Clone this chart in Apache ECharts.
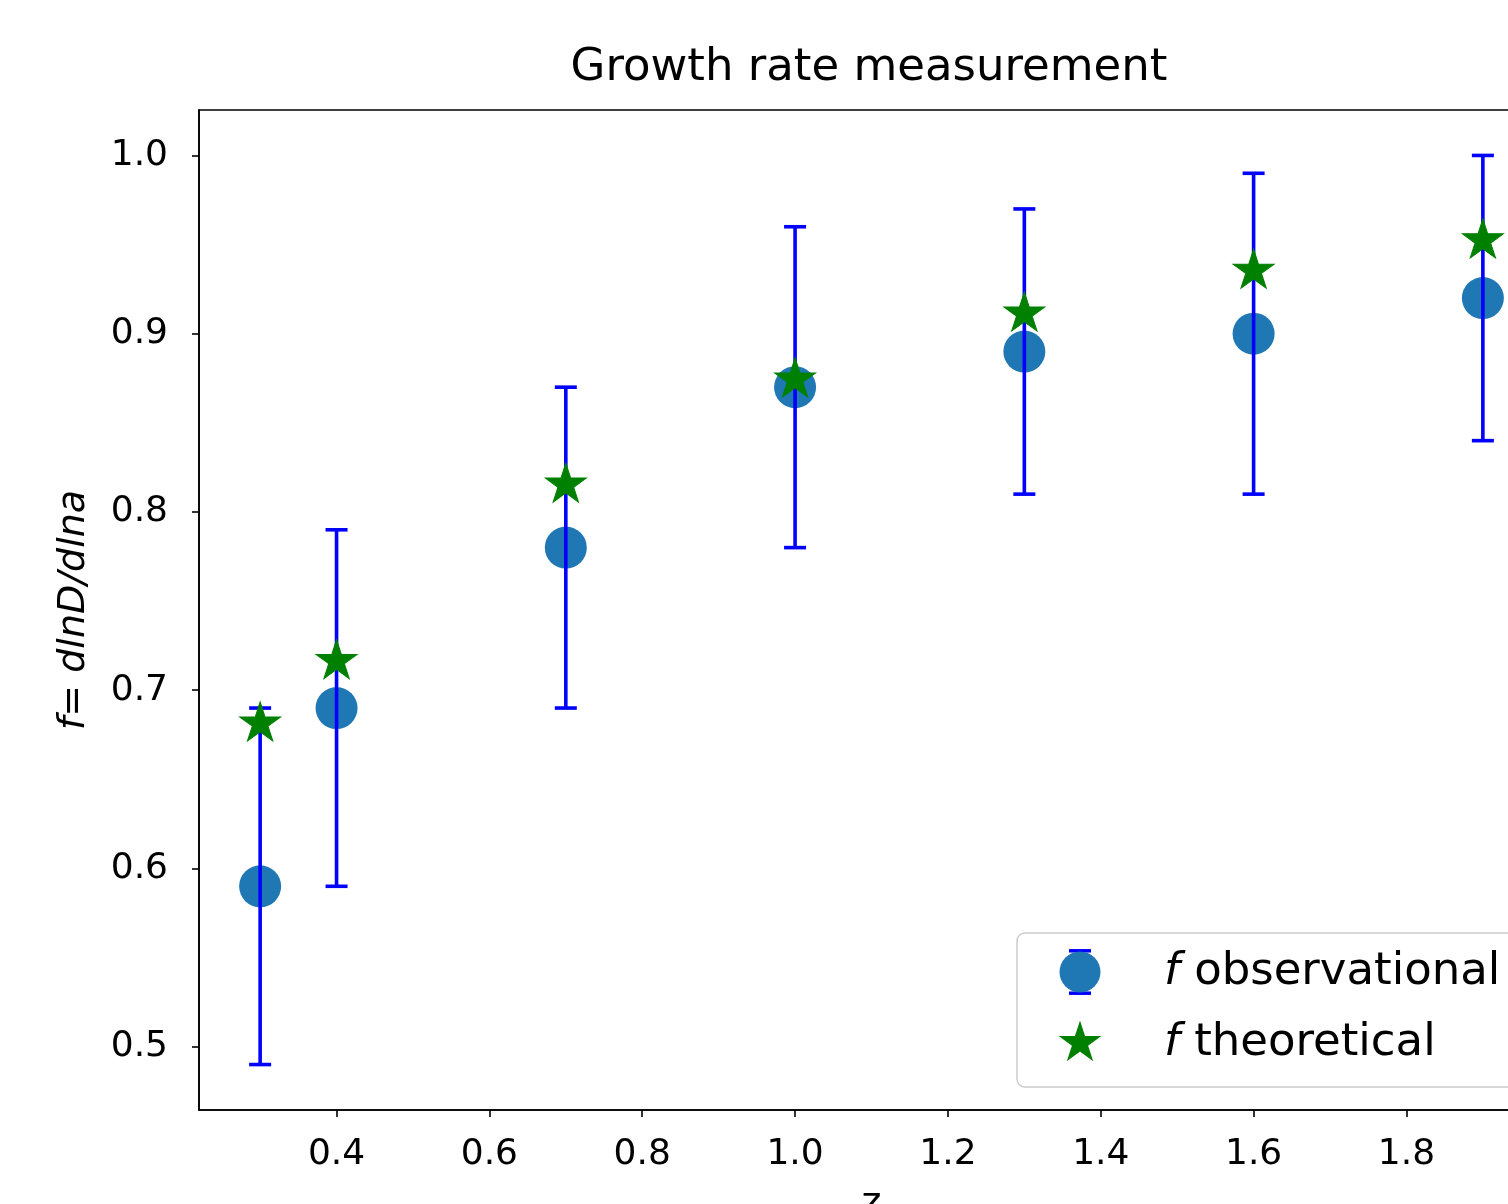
<!DOCTYPE html>
<html>
<head>
<meta charset="utf-8">
<script src="https://cdn.jsdelivr.net/npm/echarts@6/dist/echarts.min.js"></script>
<style>
  html, body { margin: 0; padding: 0; background: #fff; }
  #main { width: 1508px; height: 1204px; }
</style>
</head>
<body>
<div id="main"></div>
<script>
// redshift bins and growth rate values
var zVals = [0.3, 0.4, 0.7, 1.0, 1.3, 1.6, 1.9]
var fObs = [0.59, 0.69, 0.78, 0.87, 0.89, 0.90, 0.92]
var fErr = [0.10, 0.10, 0.09, 0.09, 0.08, 0.09, 0.08]
var fTheory = [0.683, 0.718, 0.817, 0.876, 0.913, 0.937, 0.954]
var xTicks = [0.4, 0.6, 0.8, 1.0, 1.2, 1.4, 1.6, 1.8]
var yTicks = [0.5, 0.6, 0.7, 0.8, 0.9, 1.0]

var font = 'DejaVu Sans'
var obsColor = '#1f77b4'
var errColor = '#0000ff'
var starColor = '#008000'
var starPath = 'path://M100,0 L122.45,69.1 L195.11,69.1 L136.33,111.8 L158.78,180.9 L100,138.2 L41.22,180.9 L63.67,111.8 L4.89,69.1 L77.55,69.1 Z'

var obsData = zVals.map(function (z, i) { return [z, fObs[i]] })
var errData = zVals.map(function (z, i) { return [z, fObs[i], fErr[i]] })
var theoryData = zVals.map(function (z, i) { return [z, fTheory[i]] })

// legend handles drawn like matplotlib: errorbar caps + circle, and a star
function svgIcon (body) {
  var svg = "<svg xmlns='http://www.w3.org/2000/svg' width='120' height='46' viewBox='0 0 120 46'>" + body + '</svg>'
  return 'image://data:image/svg+xml;charset=utf-8,' + encodeURIComponent(svg)
}
var obsIcon = svgIcon(
  "<line x1='30' y1='1.8' x2='52' y2='1.8' stroke='" + errColor + "' stroke-width='3.5'/>" +
  "<line x1='30' y1='44.2' x2='52' y2='44.2' stroke='" + errColor + "' stroke-width='3.5'/>" +
  "<circle cx='41' cy='23' r='20.5' fill='" + obsColor + "'/>")
var starIcon = svgIcon(
  "<polygon points='41,3 45.49,16.82 60.02,16.82 48.27,25.36 52.76,39.18 41,30.64 29.24,39.18 33.73,25.36 21.98,16.82 36.51,16.82' fill='" + starColor + "' stroke='" + starColor + "' stroke-width='1.5'/>")

var myChart = echarts.init(document.getElementById('main'), null, { renderer: 'canvas' })

var option = {
  backgroundColor: '#ffffff',
  animation: false,
  textStyle: { fontFamily: font },
  graphic: [
    {
      type: 'text',
      x: 869,
      y: 68,
      style: {
        text: 'Growth rate measurement',
        font: '45px "DejaVu Sans"',
        fill: '#000',
        align: 'center',
        verticalAlign: 'middle'
      }
    }
  ],
  grid: {
    left: 199,
    top: 110,
    right: -36,
    bottom: 94,
    outerBoundsMode: 'none',
    containLabel: false,
    show: true,
    borderColor: '#000',
    borderWidth: 1.6,
    backgroundColor: 'transparent'
  },
  legend: {
    orient: 'vertical',
    left: 1017,
    top: 933,
    padding: [16, 40, 21, 22],
    itemWidth: 120,
    itemHeight: 46,
    itemGap: 25,
    backgroundColor: 'rgba(255,255,255,0.8)',
    borderColor: '#cccccc',
    borderWidth: 1.5,
    borderRadius: 8,
    data: [
      { name: 'observational', icon: obsIcon },
      { name: 'theoretical', icon: starIcon }
    ],
    formatter: function (name) { return '{i|f} ' + name },
    textStyle: {
      fontFamily: font,
      fontSize: 45,
      color: '#000',
      rich: {
        i: { fontFamily: font, fontSize: 45, fontStyle: 'italic', color: '#000' }
      }
    }
  },
  xAxis: {
    type: 'value',
    min: 0.22,
    max: 1.98,
    name: 'z',
    nameLocation: 'middle',
    nameGap: 75,
    nameTextStyle: { fontFamily: font, fontSize: 38, color: '#000' },
    splitLine: { show: false },
    axisLine: { show: true, onZero: false, lineStyle: { color: '#000', width: 1.6 } },
    axisTick: { show: true, length: 7, lineStyle: { color: '#000', width: 1.6 }, customValues: xTicks },
    axisLabel: {
      fontFamily: font, fontSize: 36, color: '#000', margin: 27,
      customValues: xTicks,
      formatter: function (v) { return v.toFixed(1) }
    }
  },
  yAxis: {
    type: 'value',
    min: 0.4645,
    max: 1.0255,
    name: 'f= dlnD/dlna',
    nameLocation: 'middle',
    nameRotate: 90,
    nameGap: 106,
    nameTextStyle: { fontFamily: font, fontSize: 38, color: '#000', fontStyle: 'italic' },
    splitLine: { show: false },
    axisLine: { show: true, onZero: false, lineStyle: { color: '#000', width: 1.6 } },
    axisTick: { show: true, length: 7, lineStyle: { color: '#000', width: 1.6 }, customValues: yTicks },
    axisLabel: {
      fontFamily: font, fontSize: 36, color: '#000', margin: 31,
      customValues: yTicks,
      formatter: function (v) { return v.toFixed(1) }
    }
  },
  series: [
    {
      name: 'observational',
      type: 'scatter',
      data: obsData,
      symbol: 'circle',
      symbolSize: 42,
      itemStyle: { color: obsColor, opacity: 1 },
      z: 2
    },
    {
      name: 'observational',
      type: 'custom',
      data: errData,
      z: 3,
      renderItem: function (params, api) {
        var x = api.value(0)
        var y = api.value(1)
        var e = api.value(2)
        var lo = api.coord([x, y - e])
        var hi = api.coord([x, y + e])
        var cap = 11
        var style = { stroke: errColor, lineWidth: 3.6 }
        return {
          type: 'group',
          children: [
            { type: 'line', shape: { x1: lo[0], y1: lo[1], x2: hi[0], y2: hi[1] }, style: style },
            { type: 'line', shape: { x1: lo[0] - cap, y1: lo[1], x2: lo[0] + cap, y2: lo[1] }, style: style },
            { type: 'line', shape: { x1: hi[0] - cap, y1: hi[1], x2: hi[0] + cap, y2: hi[1] }, style: style }
          ]
        }
      }
    },
    {
      name: 'theoretical',
      type: 'scatter',
      data: theoryData,
      symbol: starPath,
      symbolSize: [41, 39],
      symbolOffset: [0, 1],
      itemStyle: { color: starColor, borderColor: starColor, borderWidth: 1, opacity: 1 },
      z: 4
    }
  ]
}

myChart.setOption(option)
</script>
</body>
</html>
